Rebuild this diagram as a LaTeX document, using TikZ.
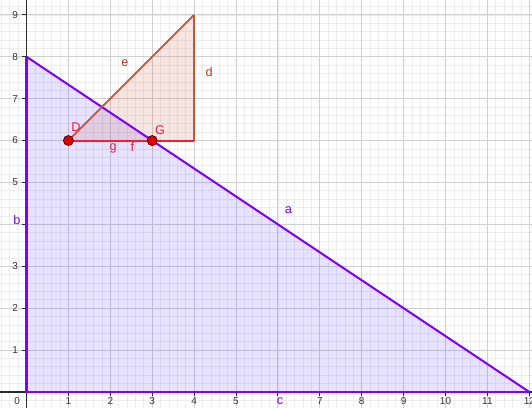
\documentclass[tikz,border=0pt]{standalone}
\usepackage{fontspec}
\setmainfont{Liberation Sans}
\definecolor{ggviolet}{HTML}{7F00FF}
\definecolor{ggfill}{RGB}{80,50,255}
\definecolor{ggbrown}{HTML}{C8553A}
\definecolor{ggbrowntext}{HTML}{C0391B}
\definecolor{ggred}{HTML}{F01E3C}
\definecolor{ggpoint}{HTML}{E00000}
\definecolor{ggpointrim}{HTML}{5A0000}
\definecolor{minorgridc}{HTML}{EDEDED}
\definecolor{majorgridc}{HTML}{D0D0D0}
\definecolor{axisc}{HTML}{2A2A2A}
\definecolor{tickc}{HTML}{333333}
\begin{document}
\begin{tikzpicture}[x=1cm,y=1cm,
  minorgrid/.style={draw=minorgridc,line width=0.45pt},
  majorgrid/.style={draw=majorgridc,line width=0.6pt},
  axisline/.style={draw=axisc,line width=0.9pt},
  ticklabel/.style={font=\fontsize{6.8pt}{8pt}\selectfont,text=tickc,inner sep=0pt},
  objlabel/.style={font=\fontsize{8.6pt}{10pt}\selectfont,inner sep=0pt},
  polyedge/.style={draw=ggviolet,line width=1.4pt},
  triedge/.style={draw=ggbrown,line width=1.2pt},
  redseg/.style={draw=ggred,line width=1.4pt},
  ptdot/.style={circle,fill=ggpoint,draw=ggpointrim,line width=0.5pt,inner sep=0pt,minimum size=0.24cm}
]
\useasboundingbox (-0.632,-0.383) rectangle (12.064,9.354);
\fill[white] (-0.632,-0.383) rectangle (12.064,9.354);
% grid
\draw[minorgrid,step=0.2] (-0.632,-0.383) grid (12.064,9.354);
\draw[majorgrid,step=1] (-0.632,-0.383) grid (12.064,9.354);
% axes
\draw[axisline] (-0.632,0) -- (12.064,0);
\draw[axisline] (0,-0.383) -- (0,9.354);
\foreach \i in {1,...,12} \draw[axisc,line width=0.6pt] (\i,0) -- (\i,-0.1);
\foreach \j in {1,...,9} \draw[axisc,line width=0.6pt] (0,\j) -- (-0.1,\j);
% tick labels
\foreach \i in {1,2,3,4,5,7,8,9,10,11,12} \node[ticklabel] (xl\i) at (\i,-0.22) {\i};
\foreach \j in {1,2,3,5,6,7,8,9} \node[ticklabel] (yl\j) at (-0.27,\j) {\j};
\node[ticklabel] (zero) at (-0.22,-0.22) {0};
% coordinates
\coordinate (O) at (0,0);
\coordinate (A) at (12,0);
\coordinate (B) at (0,8);
\coordinate (T) at (4,9);
\coordinate (R) at (4,6);
% polygon
\fill[ggfill,fill opacity=0.14] (O) -- (A) -- (B) -- cycle;
\node[ptdot,draw=none,fill=none] (D) at (1,6) {};
\node[ptdot,draw=none,fill=none] (G) at (3,6) {};
\fill[ggbrown,fill opacity=0.15] (D.center) -- (T) -- (R) -- cycle;
\draw[polyedge] (O) -- (A);
\draw[polyedge] (A) -- (B);
\draw[polyedge] (B) -- (O);
\draw[triedge] (D.center) -- (T);
\draw[triedge] (T) -- (R);
\draw[redseg] (D.center) -- (R);
\node[ptdot] at (D) {};
\node[ptdot] at (G) {};
% labels
\node[objlabel,text=ggviolet] (la) at (6.25,4.35) {a};
\node[objlabel,text=ggviolet] (lb) at (-0.23,4.11) {b};
\node[objlabel,text=ggviolet] (lc) at (6.05,-0.22) {c};
\node[objlabel,text=ggbrowntext] (le) at (2.35,7.84) {e};
\node[objlabel,text=ggbrowntext] (ld) at (4.36,7.64) {d};
\node[objlabel,text=ggred] (lD) at (1.18,6.31) {D};
\node[objlabel,text=ggred] (lG) at (3.19,6.26) {G};
\node[objlabel,text=ggred] (lg) at (2.07,5.82) {g};
\node[objlabel,text=ggred] (lf) at (2.53,5.84) {f};
\end{tikzpicture}
\end{document}
